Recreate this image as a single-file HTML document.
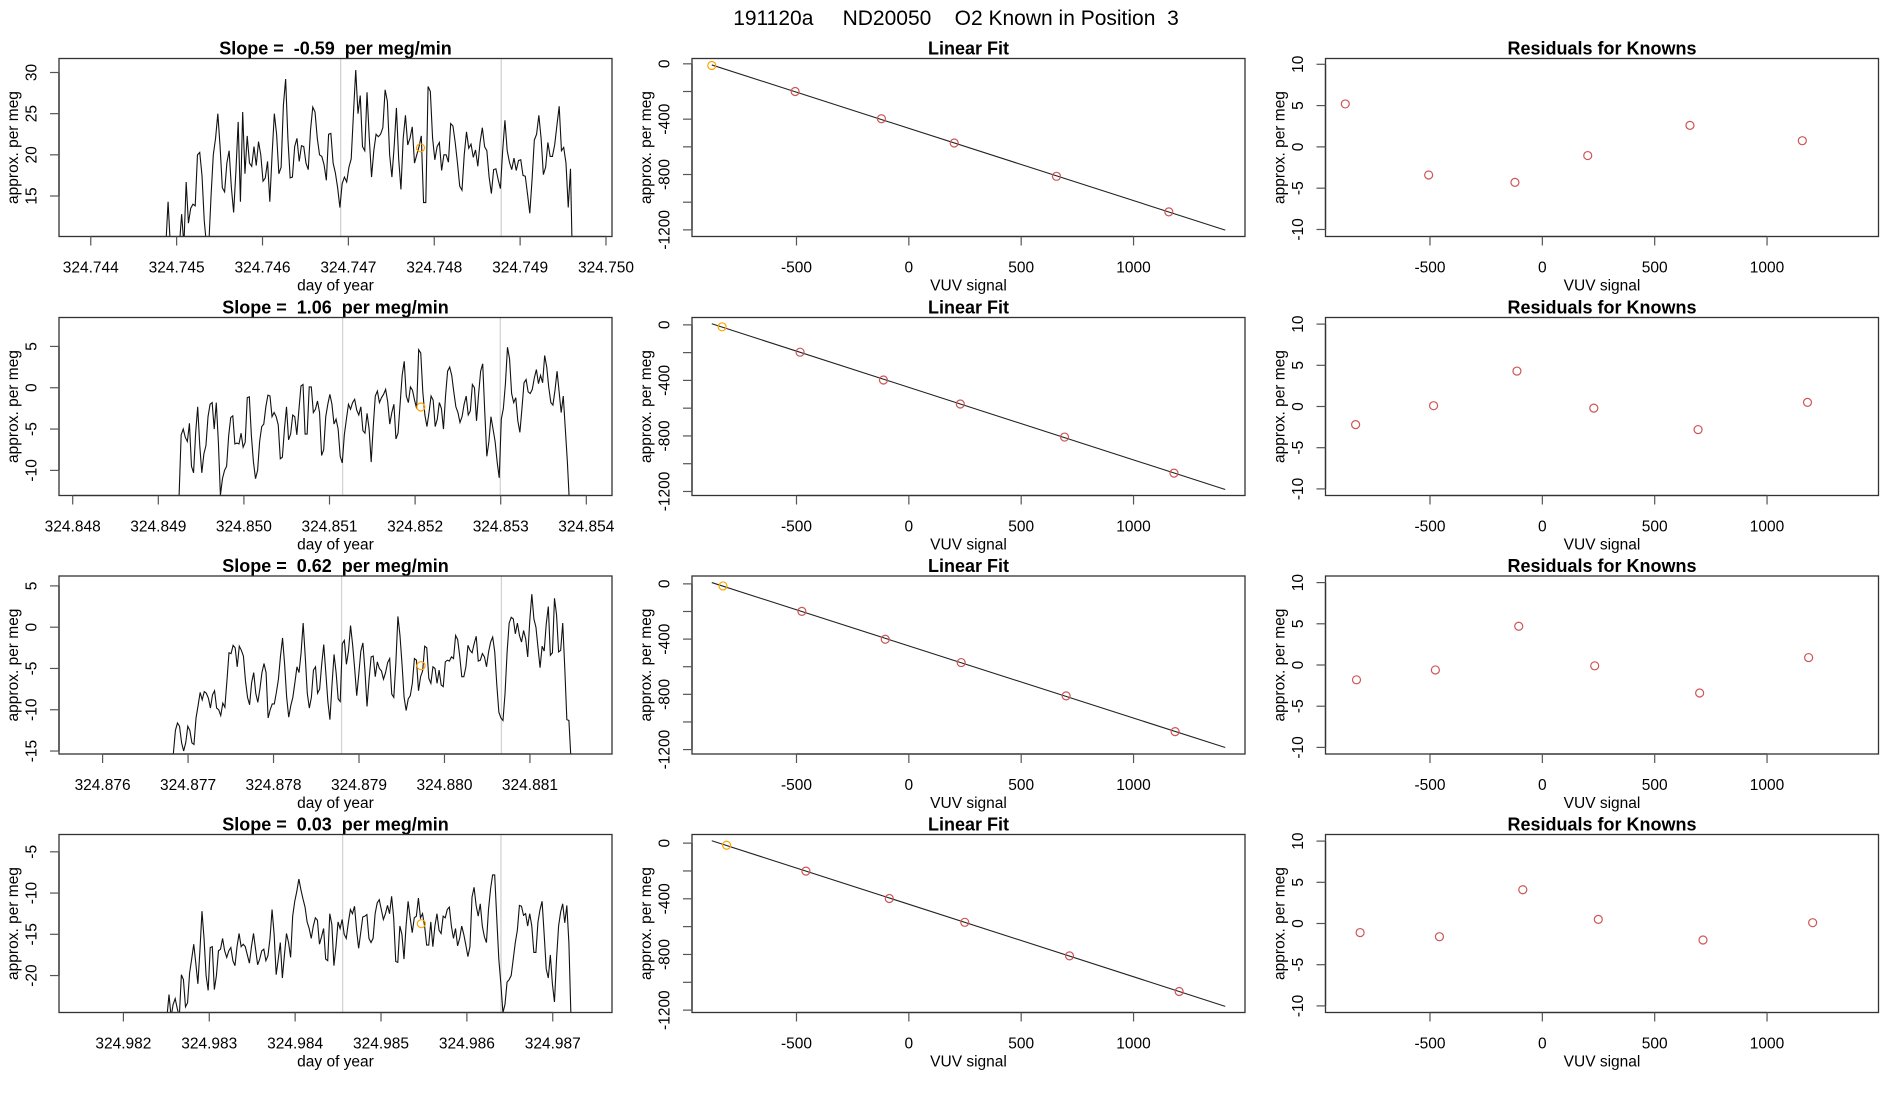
<!DOCTYPE html>
<html>
<head>
<meta charset="utf-8">
<style>
html,body{margin:0;padding:0;background:#fff;}
svg{display:block;font-family:"Liberation Sans",Arial,sans-serif;}
text{white-space:pre;}
</style>
</head>
<body>
<svg id="fig" width="1900" height="1100" viewBox="0 0 1900 1100" xmlns="http://www.w3.org/2000/svg" xml:space="preserve">
<rect width="1900" height="1100" fill="#fff"/>
<text x="956" y="25" font-size="21" text-anchor="middle" style="white-space:pre" xml:space="preserve">191120a     ND20050    O2 Known in Position  3</text>
</svg>
<script>
// ---------- time series (left column) ----------
const tsStart = [324.744874, 324.849243, 324.876828, 324.982507];
const tsEnd = [324.749613, 324.853803, 324.881480, 324.987212];
const tsSlopes = ["-0.59", "1.06", "0.62", "0.03"];
const tsVal1 = [9,14.3,9,9,9,9,9,12.8,9,16.7,11.7,13.5,14,13.8,20,20.3,17.5,12,9,9,15,20,22,25,21,16,15.5,19,20.5,16,13,18,24,14.3,25.2,17.7,22.3,19,18.6,21,18.7,21.6,20,16.8,17.2,19.2,14.3,20,25,22.5,17.7,18.5,26,29.2,22,17.2,17.3,21,22,19.2,21.1,21,19,18.2,23,25.8,25.2,22,20,19.8,18.8,16.9,22.5,22.6,19,17.8,16,13.6,16.5,17.3,16.7,18.5,19.5,25,30.3,25,27.2,21,20.5,27.6,22,17.3,20.5,22.5,22.2,22.5,23.3,27.9,26.5,20,17.3,21,25.7,19.5,15.8,22,24.8,21.2,22,23.4,19,20,21,22.3,14.2,14.2,28.3,27.7,22,19.4,21,21.5,18.1,20,20,19.1,23.8,23.5,21.5,19,16.2,15.7,20,22.8,20.8,21.3,19.7,20.6,18.6,21.5,23.3,21,20.5,17.3,15.3,18.2,18.3,17,15.9,20.5,24.2,20.5,19.1,18.2,19.6,18.1,19.3,19.4,17.5,17.4,15.2,12.9,17,21.8,22.5,24.8,22,17.6,18.5,21.5,19.8,19.8,21.2,23.6,25.9,20.5,20.9,19,13.6,18.3,5];
const tsVal2 = [-13,-5.7,-5,-6,-6.5,-4.3,-9.5,-10.3,-5.5,-2.3,-7,-10.3,-8,-7,-3.5,-2,-1.8,-5,-1.8,-6.5,-13,-11,-10,-9.5,-5.8,-3.6,-3.4,-6.8,-6.7,-6.8,-5.5,-7.2,-6.6,-1.2,-1.1,-5.8,-9,-11,-10,-6.5,-4.7,-4.4,-2.3,-0.9,-1,-3.5,-3,-3.5,-4.5,-8.6,-8.4,-5,-2.3,-6.3,-5.6,-3.3,-3.5,-5.7,-2.7,0.2,0.4,-5.6,-5.6,0.1,0.1,-3,-2.6,-1.6,-3,-8.2,-7.5,-3.5,-2,-0.8,-2,-4.4,-3.8,-5,-8.3,-9.1,-5.7,-3.8,-2,-2.6,-1.8,-1.4,-2.7,-3.3,-2.3,-5.2,-5.5,-3.1,-5,-9,-4.7,-1,-0.4,-1.8,-1.2,-0.8,-0.2,-1.7,-4.4,-3,-2,-6.2,-5.5,-2,1.5,3.2,-1,-1.8,0.1,-0.3,-1.5,-2.5,4.6,4.2,-0.5,-3.3,-4.7,-3,-1,-1.5,-4.7,-3.8,-1.8,-2.5,-5,-1,2,2.5,1.5,-0.5,-2.3,-3,-4.2,-3.5,-2,-1,-3.3,-2.8,0.4,0,-4,-0.8,2,2.9,-3,-8.3,-6.5,-3.5,-5,-6.5,-9,-10.9,-3.8,-2.5,0.5,4.9,3.5,-0.7,-1.8,-1.2,-4,-5.4,-2.5,0.6,1,-0.5,-0.7,-0.2,1.2,2.2,0.5,1.5,0.6,3.9,2.5,0,-1.8,-2.1,-0.3,2,-0.5,-3,-1,-5,-9,-14];
const tsVal3 = [-15.3,-12.5,-11.6,-12,-14,-15,-14,-12,-12.5,-14,-14.2,-11,-9.5,-7.9,-8.8,-7.8,-8,-8.6,-9.8,-8.2,-7.7,-9.8,-10,-10.7,-9.2,-9.7,-6.5,-3.1,-3.2,-2.2,-2.5,-4.8,-2.3,-2.8,-3.5,-6.5,-8.5,-9.4,-6.7,-5.5,-8,-9.1,-7.5,-5.5,-4.4,-5.5,-11,-10,-9.3,-9.3,-7.9,-6.3,-3.5,-1.3,-4.5,-8.5,-10.9,-9.5,-8.5,-6.7,-4.8,-5.5,-3.1,0.5,-3.5,-8,-9.8,-8.5,-5.2,-4.8,-8,-7.5,-4.5,-2.1,-5.5,-9,-11.2,-7,-3.3,-5.5,-8.7,-9,-2,-1.6,-4.5,-2.9,0.2,-2.1,-5,-8.3,-5.7,-2.9,-1.9,-5.3,-9.6,-6.3,-3.6,-3.5,-6,-4.2,-5,-5.3,-6.3,-5.5,-4.3,-3.8,-8.1,-8.5,-4.3,1.3,-1,-4.5,-8.5,-10.1,-8.7,-8.3,-6.8,-3.8,-4,-7.7,-6,-5.3,-2.3,-2.5,-6.2,-6.8,-4.8,-5,-6.8,-5.2,-7,-7.2,-4.2,-4,-4.1,-3.6,-3.8,-1,-1.5,-3.5,-6,-6,-4.8,-2.2,-2.8,-3.1,-2,-1.1,-4.1,-4,-3.2,-3.6,-4.8,-3,-1.8,-1.2,-3,-7,-10.3,-11,-11.3,-8,-3,0.5,1.2,1,-0.8,0.5,-1,-1.8,-0.4,-1.4,-3.6,0.8,4,1,0,-2.5,-4.9,-2.3,-2.9,0.4,2.5,-3.4,-3.1,3.5,1.5,-3,-2.8,0.5,-5,-11.2,-11.3,-16];
const tsVal4 = [-25,-22.3,-25,-23.5,-22.8,-24,-25,-19.9,-20.5,-23.8,-23.3,-19.7,-18,-16.2,-18.5,-21,-17,-12.2,-15.5,-20,-21.8,-16.6,-16.5,-21.7,-20,-17,-16.8,-15.5,-17,-17.8,-17,-16.6,-18.2,-18.8,-16.5,-14.9,-16.5,-16.2,-16.5,-17.5,-18.5,-16.5,-14.9,-16.8,-18.7,-18,-17,-16.8,-18.2,-17.6,-15.5,-12,-15,-19.9,-18,-16,-20.3,-17.5,-14.9,-16,-17.8,-12.8,-11,-9.8,-8.3,-9.6,-10.7,-11.7,-13.5,-14.3,-15.5,-14,-13,-13.3,-16.2,-15.3,-14.3,-18,-18.2,-12.5,-13.8,-18.8,-16.5,-13.5,-14.3,-13.2,-15,-15.5,-13.6,-12,-12.5,-11.6,-14.5,-16.7,-14.8,-12.9,-12.8,-12.6,-15.5,-16,-15.5,-12.5,-11.2,-10.8,-12,-13.2,-12.5,-11.5,-12.5,-10.4,-13,-18.3,-18.4,-14,-15,-18,-14,-11,-13,-14.8,-13,-12.8,-10.6,-13,-12.5,-14,-16.3,-16.3,-13.5,-16.5,-14,-12.5,-14.5,-14.9,-12.8,-13,-12,-11.7,-14,-15.5,-14.3,-16.4,-15.5,-14,-15,-16.3,-17.7,-16.5,-10.5,-9.3,-11.5,-12.8,-11.3,-14,-15.3,-16,-12,-9.5,-7.8,-7.8,-13,-18,-21,-24.5,-23.5,-20.8,-20.5,-20,-18,-16,-14.5,-11.5,-11.6,-12.7,-12.5,-14,-12.5,-14,-17.2,-17.2,-13.5,-12,-11,-15,-19.2,-20.3,-17.5,-21,-23.2,-18,-14,-12.3,-11.3,-13.6,-11.5,-16,-25];
const tsValues = [tsVal1, tsVal2, tsVal3, tsVal4];
const tsGreyLines = [[324.74691, 324.74878],[324.851153, 324.852995],[324.878796, 324.880666],[324.984553, 324.986397]];
const tsOrangeT = [324.74784, 324.852067, 324.879726, 324.98547];
const tsOrangeV = [20.85, -2.33, -4.66, -13.71];
const tsXlim = [[324.74363,324.75007],[324.84784,324.85430],[324.87549,324.88196],[324.98125,324.98769]];
const tsYlim = [[10.08,31.7],[-13.04,8.5],[-15.36,6.2],[-24.48,-2.9]];
const tsXTicks = [["324.744","324.745","324.746","324.747","324.748","324.749","324.750"],
  ["324.848","324.849","324.850","324.851","324.852","324.853","324.854"],
  ["324.876","324.877","324.878","324.879","324.880","324.881"],
  ["324.982","324.983","324.984","324.985","324.986","324.987"]];
const tsYTicks = [[15,20,25,30],[-10,-5,0,5],[-15,-10,-5,0,5],[-20,-15,-10,-5]];

// ---------- linear fit (middle column) ----------
const fitX1 = [-877,-506,-122,202,657,1157];
const fitY1 = [-12,-200,-397,-572,-813,-1070];
const fitX2 = [-831,-484,-113,229,693,1180];
const fitY2 = [-14,-197,-397,-570,-808,-1068];
const fitX3 = [-827,-476,-105,233,700,1185];
const fitY3 = [-15,-199,-401,-570,-811,-1070];
const fitX4 = [-811,-458,-87,249,715,1203];
const fitY4 = [-15,-201,-398,-569,-810,-1066];
const fitXs = [fitX1, fitX2, fitX3, fitX4];
const fitYs = [fitY1, fitY2, fitY3, fitY4];
const fitLineRange = [-877, 1408];
const fitYlim = [[-1248,38.5],[-1229,53],[-1232,57],[-1217,62]];
const vuvXlim = [-965, 1496];
const vuvXTicks = [-500, 0, 500, 1000];
const fitYTicks = [0,-200,-400,-600,-800,-1000,-1200];
const fitYTickLabels = ["0","","-400","","-800","","-1200"];

// ---------- residuals (right column) ----------
const res1 = [5.2,-3.4,-4.3,-1.05,2.6,0.75];
const res2 = [-2.2,0.1,4.3,-0.2,-2.8,0.5];
const res3 = [-1.8,-0.6,4.7,-0.1,-3.4,0.9];
const res4 = [-1.1,-1.6,4.1,0.5,-2.0,0.1];
const resVals = [res1, res2, res3, res4];
const resYlim = [[-10.85,10.7],[-10.8,10.8],[-10.8,10.8],[-10.8,10.8]];
const resYTicks = [-10,-5,0,5,10];

const NS = "http://www.w3.org/2000/svg";
const svg = document.getElementById("fig");
const colX = [59, 692, 1325.5];
const rowY = [58.5, 317.5, 576, 834.5];
const PW = 553, PH = 178;

function mk(tag, attrs, parent) {
  const e = document.createElementNS(NS, tag);
  for (const k in attrs) e.setAttribute(k, attrs[k]);
  (parent || svg).appendChild(e);
  return e;
}
function txt(s, attrs, parent) { const e = mk("text", attrs, parent); e.textContent = s; return e; }

let clipId = 0;
function panel(x0, y0, xlim, ylim, title, xlab, name) {
  const g = mk("g", {});
  
  
  const sx = v => x0 + (v - xlim[0]) / (xlim[1] - xlim[0]) * PW;
  const sy = v => y0 + PH - (v - ylim[0]) / (ylim[1] - ylim[0]) * PH;
  const id = "clip" + (clipId++);
  const cp = mk("clipPath", { id: id }, g);
  mk("rect", { x: x0, y: y0, width: PW, height: PH }, cp);
  const plot = mk("g", { "clip-path": "url(#" + id + ")" }, g);
  const t = txt(title, { x: x0 + PW / 2, y: y0 - 4, "font-size": 18, "font-weight": "bold", "text-anchor": "middle", style: "white-space:pre" }, g);
  
  
  const xl = txt(xlab, { x: x0 + PW / 2, y: y0 + PH + 54, "font-size": 15.5, "text-anchor": "middle" }, g);
  
  
  const yl = txt("approx. per meg", { transform: "translate(" + (x0 - 41) + "," + (y0 + PH / 2) + ") rotate(-90)", "font-size": 15.5, "text-anchor": "middle" }, g);
  
  
  return { g, plot, sx, sy, x0, y0 };
}
function finishBox(p) {
  const b = mk("rect", { x: p.x0, y: p.y0, width: PW, height: PH, fill: "none", stroke: "#333", "stroke-width": 1.3 }, p.g);
  
  
}
function xAxis(p, vals, labels) {
  const ax = mk("g", {}, p.g);
  
  
  const yb = p.y0 + PH;
  mk("line", { x1: p.sx(vals[0]), x2: p.sx(vals[vals.length - 1]), y1: yb, y2: yb, stroke: "#333", "stroke-width": 1.3 }, ax);
  vals.forEach((v, i) => {
    mk("line", { x1: p.sx(v), x2: p.sx(v), y1: yb, y2: yb + 9, stroke: "#555", "stroke-width": 1.2 }, ax);
    const l = txt(labels[i], { x: p.sx(v), y: yb + 36, "font-size": 15.5, "text-anchor": "middle" }, ax);
    
    
  });
}
function yAxis(p, vals, labels) {
  const ax = mk("g", {}, p.g);
  
  
  mk("line", { x1: p.x0, x2: p.x0, y1: p.sy(vals[0]), y2: p.sy(vals[vals.length - 1]), stroke: "#333", "stroke-width": 1.3 }, ax);
  vals.forEach((v, i) => {
    mk("line", { x1: p.x0 - 9, x2: p.x0, y1: p.sy(v), y2: p.sy(v), stroke: "#555", "stroke-width": 1.2 }, ax);
    if (labels[i] !== "") {
      const l = txt(labels[i], { transform: "translate(" + (p.x0 - 22.5) + "," + p.sy(v) + ") rotate(-90)", "font-size": 15.5, "text-anchor": "middle" }, ax);
      
      
    }
  });
}
function circle(p, x, y, color, name) {
  const c = mk("circle", { cx: p.sx(x), cy: p.sy(y), r: 4, fill: "none", stroke: color, "stroke-width": 1.2 }, p.plot);
  
  
}

for (let r = 0; r < 4; r++) {
  // left: time series
  const p = panel(colX[0], rowY[r], tsXlim[r], tsYlim[r], "Slope =  " + tsSlopes[r] + "  per meg/min", "day of year", "timeseries-panel-" + (r + 1));
  tsGreyLines[r].forEach(t => {
    const gl = mk("line", { x1: p.sx(t), x2: p.sx(t), y1: p.y0, y2: p.y0 + PH, stroke: "#d3d3d3", "stroke-width": 1.3 }, p.plot);
    
    
  });
  const vals = tsValues[r];
  const dt = (tsEnd[r] - tsStart[r]) / (vals.length - 1);
  const pts = vals.map((v, i) => p.sx(tsStart[r] + i * dt).toFixed(2) + "," + p.sy(v).toFixed(2)).join(" ");
  const pl = mk("polyline", { points: pts, fill: "none", stroke: "#111", "stroke-width": 1.1 }, p.plot);
  
  
  circle(p, tsOrangeT[r], tsOrangeV[r], "#ffa500", "known-marker");
  finishBox(p);
  const xt = tsXTicks[r].map(Number);
  xAxis(p, xt, tsXTicks[r]);
  yAxis(p, tsYTicks[r], tsYTicks[r].map(String));

  // middle: linear fit
  const q = panel(colX[1], rowY[r], vuvXlim, fitYlim[r], "Linear Fit", "VUV signal", "linear-fit-panel-" + (r + 1));
  const X = fitXs[r], Y = fitYs[r];
  const n = X.length;
  const mx = X.reduce((a, b) => a + b, 0) / n, my = Y.reduce((a, b) => a + b, 0) / n;
  let sxy = 0, sxx = 0;
  for (let i = 0; i < n; i++) { sxy += (X[i] - mx) * (Y[i] - my); sxx += (X[i] - mx) * (X[i] - mx); }
  const b = sxy / sxx, a = my - b * mx;
  const fl = mk("line", { x1: q.sx(fitLineRange[0]), y1: q.sy(a + b * fitLineRange[0]), x2: q.sx(fitLineRange[1]), y2: q.sy(a + b * fitLineRange[1]), stroke: "#222", "stroke-width": 1.1 }, q.plot);
  
  
  for (let i = 0; i < n; i++) circle(q, X[i], Y[i], i === 0 ? "#ffa500" : "#cd5555", i === 0 ? "known-marker" : "standard-point");
  finishBox(q);
  xAxis(q, vuvXTicks, vuvXTicks.map(String));
  yAxis(q, fitYTicks, fitYTickLabels);

  // right: residuals
  const s = panel(colX[2], rowY[r], vuvXlim, resYlim[r], "Residuals for Knowns", "VUV signal", "residuals-panel-" + (r + 1));
  resVals[r].forEach((v, i) => circle(s, X[i], v, "#cd5555", "residual-point"));
  finishBox(s);
  xAxis(s, vuvXTicks, vuvXTicks.map(String));
  yAxis(s, resYTicks, resYTicks.map(String));
}
</script>
</body>
</html>
